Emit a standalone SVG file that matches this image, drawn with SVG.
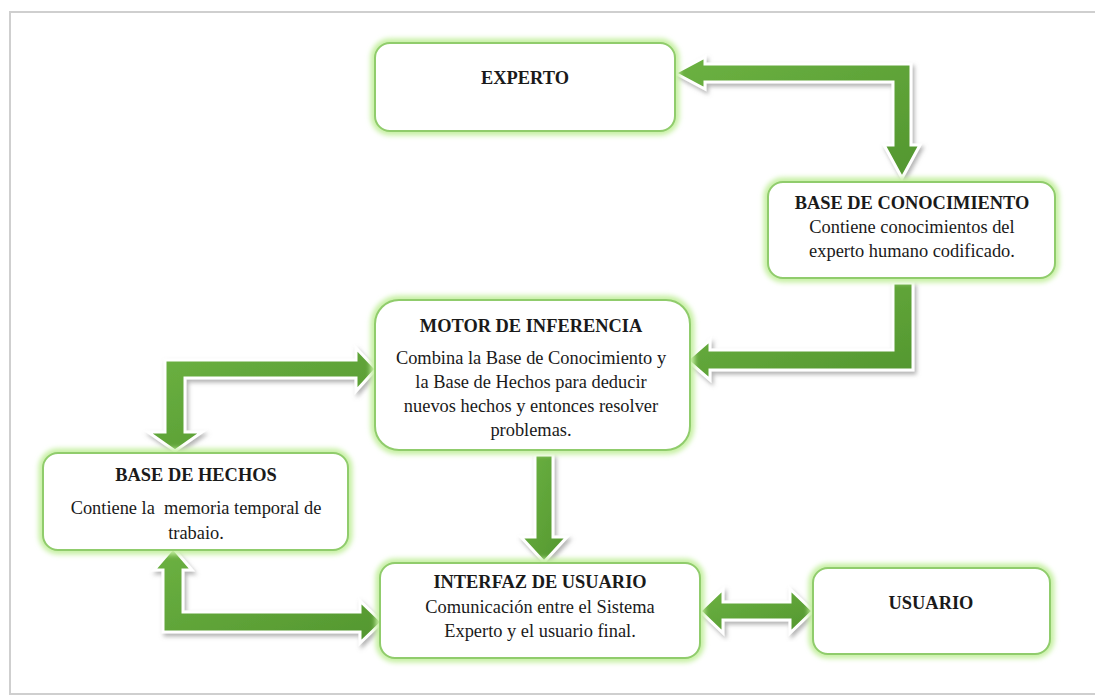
<svg xmlns="http://www.w3.org/2000/svg" width="1095" height="698" viewBox="0 0 1095 698">
<defs>
<filter id="glow" x="-10%" y="-20%" width="120%" height="140%">
<feGaussianBlur stdDeviation="2.5"/>
</filter>
<filter id="shadow" x="-10%" y="-10%" width="130%" height="130%">
<feDropShadow dx="2" dy="3" stdDeviation="2" flood-color="#808080" flood-opacity="0.6"/>
</filter>
<linearGradient id="ag" x1="0" y1="0" x2="1" y2="1">
<stop offset="0" stop-color="#6cb242"/>
<stop offset="1" stop-color="#53962f"/>
</linearGradient>
</defs>
<style>
.halo{fill:none;stroke:#c6f0a2;stroke-width:9;filter:url(#glow)}
.box{fill:#ffffff;stroke:#90cc6c;stroke-width:2}
text{font-family:'Liberation Serif','Tinos','Times New Roman','DejaVu Serif',serif;font-size:18.4px;fill:#1a1a1a;text-anchor:middle}
.b{font-weight:bold}
.arrow{fill:url(#ag);stroke:#ffffff;stroke-width:3;stroke-linejoin:miter;filter:url(#shadow)}
</style>
<rect x="0" y="0" width="1095" height="698" fill="#ffffff"/>
<rect x="10" y="12" width="1092" height="682" fill="#ffffff" stroke="#cfcfcf" stroke-width="2"/>

<g id="connectors">
<path class="arrow" d="M675,73 L705,57 L705,64 L911,64 L911,145 L920,145 L902,178 L884,145 L893,145 L893,82 L705,82 L705,89 Z"/>
<path class="arrow" d="M893,283 L913,283 L913,370 L710,370 L710,380 L687,360 L710,340 L710,350 L893,350 Z"/>
<path class="arrow" d="M165,360 L356,360 L356,348 L376,369 L356,391 L356,378 L185,378 L185,432 L202,432 L175,451 L148,432 L165,432 Z"/>
<path class="arrow" d="M535,455 L553,455 L553,537 L567,537 L544,562 L521,537 L535,537 Z"/>
<path class="arrow" d="M173,548 L192,570 L183,570 L183,612 L360,612 L360,601 L382,622 L360,643 L360,632 L163,632 L163,570 L154,570 Z"/>
<path class="arrow" d="M700,611 L723,589 L723,602 L790,602 L790,589 L813,611 L790,633 L790,620 L723,620 L723,633 Z"/>
</g>

<g id="experto">
<rect class="halo" x="375" y="43" width="300" height="88" rx="15"/>
<rect class="box" x="375" y="43" width="300" height="88" rx="15"/>
<text class="b" x="525" y="84">EXPERTO</text>
</g>

<g id="base-conocimiento">
<rect class="halo" x="768" y="182" width="287" height="96" rx="15"/>
<rect class="box" x="768" y="182" width="287" height="96" rx="15"/>
<text class="b" x="912" y="209">BASE DE CONOCIMIENTO</text>
<text x="912" y="233">Contiene conocimientos del</text>
<text x="912" y="257">experto humano codificado.</text>
</g>

<g id="motor-inferencia">
<rect class="halo" x="375" y="300" width="315" height="150" rx="24"/>
<rect class="box" x="375" y="300" width="315" height="150" rx="24"/>
<text class="b" x="531" y="332">MOTOR DE INFERENCIA</text>
<text x="531" y="364">Combina la Base de Conocimiento y</text>
<text x="531" y="388">la Base de Hechos para deducir</text>
<text x="531" y="412">nuevos hechos y entonces resolver</text>
<text x="531" y="436">problemas.</text>
</g>

<g id="base-hechos">
<rect class="halo" x="43" y="453" width="305" height="97" rx="15"/>
<rect class="box" x="43" y="453" width="305" height="97" rx="15"/>
<text class="b" x="196" y="481">BASE DE HECHOS</text>
<text x="196" y="514" xml:space="preserve">Contiene la  memoria temporal de</text>
<text x="196" y="539">trabaio.</text>
</g>

<g id="interfaz-usuario">
<rect class="halo" x="380" y="563" width="320" height="95" rx="15"/>
<rect class="box" x="380" y="563" width="320" height="95" rx="15"/>
<text class="b" x="540" y="588">INTERFAZ DE USUARIO</text>
<text x="540" y="613">Comunicación entre el Sistema</text>
<text x="540" y="637">Experto y el usuario final.</text>
</g>

<g id="usuario">
<rect class="halo" x="813" y="568" width="237" height="86" rx="15"/>
<rect class="box" x="813" y="568" width="237" height="86" rx="15"/>
<text class="b" x="931" y="609">USUARIO</text>
</g>
</svg>
